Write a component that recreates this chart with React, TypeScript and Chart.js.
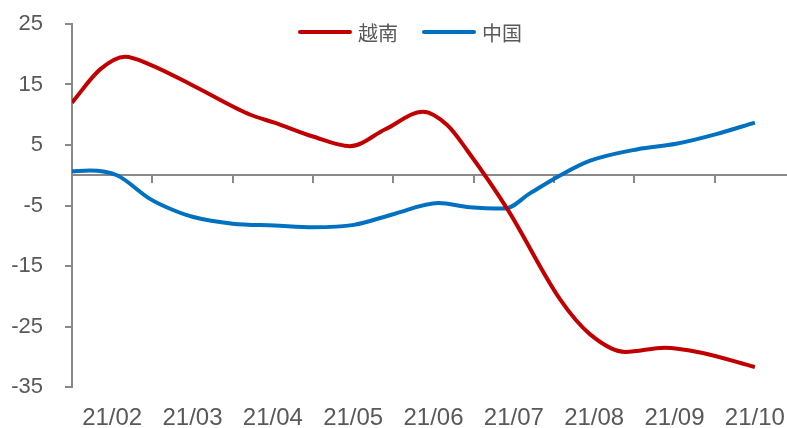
import React, { useEffect, useRef } from 'react';
import { Chart, registerables } from 'chart.js';

Chart.register(...registerables);

// Month labels (centred between tick marks)
const months = ['21/02', '21/03', '21/04', '21/05', '21/06', '21/07', '21/08', '21/09', '21/10'];
const seriesNames = ['越南', '中国'];
const seriesColors = ['#C00000', '#0070C0'];
const yTicks = [25, 15, 5, -5, -15, -25, -35];

// 越南 — x in month units (0 = left edge tick), y = value
const vnX = [0, 0.35, 0.66, 0.97, 1.51, 2.22, 2.52, 3.0, 3.46, 3.9, 4.37, 4.67, 4.92, 5.42, 6.08, 6.45, 6.89, 7.38, 7.82, 8.5];
const vnY = [12.0, 17.5, 19.6, 18.3, 14.8, 10.0, 8.7, 6.4, 4.8, 7.6, 10.5, 8.3, 4.1, -5.6, -20.6, -26.3, -29.2, -28.5, -29.3, -31.7];

// 中国
const cnX = [0, 0.22, 0.56, 0.97, 1.25, 1.51, 2.0, 2.52, 3.0, 3.51, 4.01, 4.56, 4.95, 5.39, 5.7, 6.08, 6.45, 7.04, 7.52, 8.02, 8.5];
const cnY = [0.65, 0.8, 0, -3.9, -5.7, -6.9, -8.0, -8.3, -8.6, -8.2, -6.4, -4.6, -5.3, -5.5, -3.0, 0, 2.4, 4.3, 5.2, 6.8, 8.7];

const AXIS_GRAY = '#898989';
const TEXT_GRAY = '#595959';
const X_MAX = 8.9;

const inlineLegend = {
  id: 'inlineLegend',
  afterDraw(chart: any, _args: any, opts: any) {
    const ctx = chart.ctx;
    ctx.save();
    ctx.font = opts.font;
    const items = chart.data.datasets.map((ds: any) => ({
      label: ds.label,
      color: ds.borderColor,
      w: ctx.measureText(ds.label).width,
    }));
    const total =
      items.reduce((s: number, it: any) => s + opts.lineLen + opts.gap + it.w, 0) +
      opts.itemGap * (items.length - 1);
    let x = opts.centerX - total / 2;
    for (const it of items) {
      ctx.strokeStyle = it.color;
      ctx.lineWidth = 4;
      ctx.lineCap = 'round';
      ctx.beginPath();
      ctx.moveTo(x + 2, opts.y);
      ctx.lineTo(x + opts.lineLen - 2, opts.y);
      ctx.stroke();
      x += opts.lineLen + opts.gap;
      ctx.fillStyle = opts.color;
      ctx.textBaseline = 'middle';
      ctx.textAlign = 'left';
      ctx.fillText(it.label, x, opts.y + 1);
      x += it.w + opts.itemGap;
    }
    ctx.restore();
  },
};

export default function App() {
  const ref = useRef<HTMLCanvasElement | null>(null);

  useEffect(() => {
    document.body.style.margin = '0';
    if (!ref.current) return;
    const yFont = { family: '"Liberation Sans", Arial, sans-serif', size: 22 };
    const xFont = { family: '"Liberation Sans", Arial, sans-serif', size: 24 };
    const chart = new Chart(ref.current, {
      type: 'line',
      data: {
        datasets: [
          {
            label: seriesNames[0],
            data: vnX.map((x, i) => ({ x, y: vnY[i] })),
            borderColor: seriesColors[0],
            backgroundColor: seriesColors[0],
            borderWidth: 4,
            pointRadius: 0,
            cubicInterpolationMode: 'monotone',
            xAxisID: 'x',
            yAxisID: 'y',
          },
          {
            label: seriesNames[1],
            data: cnX.map((x, i) => ({ x, y: cnY[i] })),
            borderColor: seriesColors[1],
            backgroundColor: seriesColors[1],
            borderWidth: 4,
            pointRadius: 0,
            cubicInterpolationMode: 'monotone',
            xAxisID: 'x',
            yAxisID: 'y',
          },
        ],
      },
      options: {
        animation: false,
        responsive: true,
        maintainAspectRatio: false,
        layout: { padding: { top: 24, right: 0, left: 0, bottom: 0 } },
        plugins: {
          legend: { display: false },
          tooltip: { enabled: false },
          inlineLegend: {
            centerX: 410,
            y: 32,
            lineLen: 54,
            gap: 6,
            itemGap: 24,
            font: '20px "Noto Sans CJK SC", sans-serif',
            color: TEXT_GRAY,
          },
        } as any,
        scales: {
          x: {
            type: 'linear',
            position: 'bottom',
            min: 0,
            max: X_MAX,
            grid: { display: false },
            border: { display: false },
            afterBuildTicks: (s: any) => {
              s.ticks = months.map((_, i) => ({ value: i + 0.5 }));
            },
            ticks: {
              autoSkip: false,
              maxRotation: 0,
              padding: 9,
              color: TEXT_GRAY,
              font: xFont,
              callback: (_v: any, i: number) => months[i],
            },
            afterFit: (s: any) => {
              s.height = 41;
              s.paddingLeft = 0;
              s.paddingRight = 0;
            },
          },
          xz: {
            type: 'linear',
            position: { y: 0 },
            min: 0,
            max: X_MAX,
            afterBuildTicks: (s: any) => {
              s.ticks = months.map((_, i) => ({ value: i }));
            },
            ticks: { display: false },
            grid: {
              drawOnChartArea: false,
              drawTicks: true,
              tickLength: 7,
              color: AXIS_GRAY,
              lineWidth: 2,
            },
            border: { color: AXIS_GRAY, width: 2 },
            afterFit: (s: any) => {
              s.paddingLeft = 0;
              s.paddingRight = 0;
            },
          },
          y: {
            type: 'linear',
            min: -35,
            max: 25,
            afterBuildTicks: (s: any) => {
              s.ticks = yTicks.map((v) => ({ value: v }));
            },
            grid: {
              drawOnChartArea: false,
              drawTicks: true,
              tickLength: 7,
              color: AXIS_GRAY,
              lineWidth: 2,
            },
            border: { color: AXIS_GRAY, width: 2 },
            ticks: { padding: 22, color: TEXT_GRAY, font: yFont },
            afterFit: (s: any) => {
              s.width = 72;
              s.paddingTop = 0;
              s.paddingBottom = 0;
            },
          },
        } as any,
      },
      plugins: [inlineLegend],
    } as any);
    return () => chart.destroy();
  }, []);

  return (
    <div style={{ position: 'relative', width: '787px', height: '428px' }}>
      <canvas ref={ref} />
    </div>
  );
}
